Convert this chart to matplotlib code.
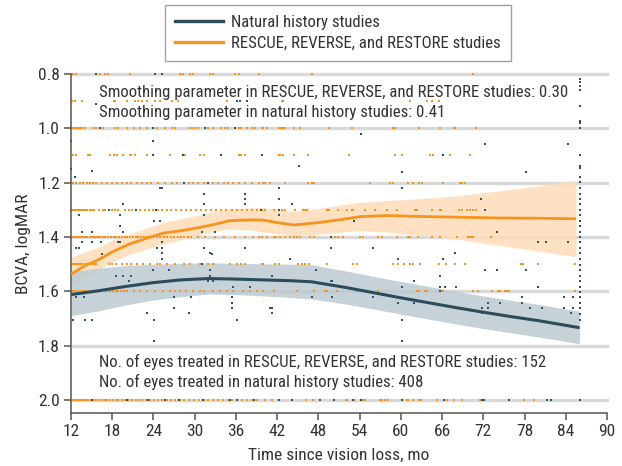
import matplotlib
matplotlib.use('Agg')
import matplotlib.pyplot as plt
from matplotlib import font_manager as fm
from matplotlib.lines import Line2D

# ---------------- data ----------------
x_ticks = [12, 18, 24, 30, 36, 42, 48, 54, 60, 66, 72, 78, 84, 90]
y_ticks = [0.8, 1.0, 1.2, 1.4, 1.6, 1.8, 2.0]

# LOESS fits (natural history)
nh_t   = [12, 16, 20, 24, 28, 32, 36, 40, 44, 47, 52, 56, 60, 64, 68, 72, 76, 80, 86]
nh_fit = [1.612, 1.598, 1.582, 1.568, 1.558, 1.553, 1.555, 1.558, 1.561, 1.565, 1.586,
          1.605, 1.624, 1.642, 1.660, 1.677, 1.693, 1.708, 1.734]
nh_lo  = [1.528, 1.515, 1.505, 1.500, 1.497, 1.495, 1.497, 1.499, 1.500, 1.502, 1.525,
          1.545, 1.564, 1.582, 1.600, 1.617, 1.633, 1.648, 1.673]
nh_hi  = [1.690, 1.672, 1.650, 1.632, 1.620, 1.610, 1.612, 1.617, 1.623, 1.628, 1.647,
          1.665, 1.684, 1.702, 1.720, 1.737, 1.753, 1.768, 1.793]

# LOESS fits (RESCUE, REVERSE, RESTORE)
rs_t   = [12, 14, 16, 18, 20.6, 23, 25.4, 28, 30.2, 32.5, 35.1, 38, 40, 42, 44.4, 48, 51,
          54.1, 58, 62, 68, 74, 80, 85.5]
rs_fit = [1.537, 1.506, 1.484, 1.455, 1.425, 1.405, 1.386, 1.377, 1.367, 1.356, 1.340,
          1.337, 1.338, 1.347, 1.356, 1.347, 1.337, 1.325, 1.321, 1.324, 1.327, 1.330,
          1.331, 1.333]
rs_lo  = [1.475, 1.455, 1.438, 1.412, 1.389, 1.367, 1.346, 1.333, 1.321, 1.308, 1.296,
          1.293, 1.292, 1.298, 1.306, 1.295, 1.283, 1.272, 1.266, 1.260, 1.249, 1.231,
          1.212, 1.191]
rs_hi  = [1.575, 1.548, 1.519, 1.492, 1.463, 1.444, 1.426, 1.410, 1.395, 1.382, 1.370,
          1.374, 1.381, 1.388, 1.395, 1.390, 1.383, 1.377, 1.382, 1.392, 1.408, 1.430,
          1.452, 1.472]

# treated eyes: months of observations on each logMAR row
rs_08 = [12.0, 12.3, 12.8, 16.2, 17.0, 17.4, 20.6, 27.9, 28.3, 29.3, 29.8, 32.2, 32.7,
         35.9, 36.4, 39.3, 47.0, 70.5]
rs_09 = [12.1, 12.6, 13.6, 18.2, 18.4, 20.1, 21.3, 21.8, 22.3, 23.0, 24.2, 25.0, 26.7,
         27.6, 34.7, 42.7, 42.9, 61.3, 63.8, 64.5, 65.5]
rs_10 = [12.1, 12.4, 12.6, 12.9, 13.1, 13.4, 13.6, 14.0, 15.2, 15.7, 16.7, 18.4, 18.9,
         20.1, 21.1, 22.0, 23.0, 24.5, 25.7, 26.7, 27.1, 29.1, 29.6, 30.0, 30.5, 32.0,
         32.7, 33.9, 34.4, 34.9, 36.4, 36.8, 37.6, 38.3, 38.8, 39.8, 40.0, 40.5, 42.2,
         42.4, 42.7, 42.9, 43.2, 44.4, 45.3, 49.5, 52.9, 58.9, 59.2, 62.6, 65.7, 67.7,
         67.9, 70.9]
rs_11 = [12.3, 12.8, 14.5, 14.8, 17.7, 18.2, 18.7, 19.6, 20.6, 20.8, 21.3, 23.0, 26.4,
         28.6, 30.8, 31.3, 36.4, 36.8, 37.3, 42.2, 42.4, 42.9, 44.4, 46.5, 52.4, 59.2,
         60.1, 64.3, 64.7, 67.2, 70.1]
rs_12 = [12.0, 12.35, 12.8, 13.3, 13.8, 14.3, 14.8, 15.25, 15.7, 16.5, 17.2, 17.9, 18.65,
         19.4, 20.1, 20.8, 21.6, 22.3, 23.0, 23.7, 24.7, 25.7, 26.65, 27.4, 29.1, 29.8,
         30.5, 31.3, 32.7, 33.4, 34.2, 34.9, 35.6, 36.4, 37.3, 38.3, 39.3, 40.0, 40.2,
         41.0, 43.2, 46.5, 47.0, 47.3, 55.5, 58.4, 58.9, 61.0, 61.8, 62.6, 63.1, 66.2,
         68.6, 68.9, 69.3]
rs_13 = [12.0, 12.3, 12.6, 12.9, 13.2, 13.5, 13.8, 14.1, 14.4, 14.7, 15.0, 15.4, 16.1,
         16.6, 17.0, 17.5, 18.0, 18.4, 18.9, 19.9, 20.4, 20.9, 21.5, 22.1, 22.7, 23.4,
         24.0, 24.6, 25.3, 26.0, 26.6, 27.3, 28.0, 28.7, 29.5, 30.2, 30.9, 31.6, 32.4,
         33.1, 33.9, 34.6, 35.4, 36.1, 36.9, 37.6, 38.4, 39.1, 39.8, 40.2, 41.5, 42.7,
         43.2, 44.6, 45.8, 46.1, 46.3, 49.2, 49.5, 50.9, 52.1, 52.9, 53.1, 54.8, 56.3,
         58.0, 59.4, 62.1, 62.3, 64.5, 65.7, 65.9, 68.4, 68.9, 69.6, 70.1, 70.5, 70.9,
         72.3]
rs_14 = [12.0, 12.3, 12.6, 12.9, 13.2, 13.5, 13.8, 14.1, 14.4, 14.7, 15.0, 15.3, 15.6,
         15.9, 16.2, 16.6, 17.0, 17.4, 17.8, 18.2, 18.6, 19.0, 19.4, 19.8, 20.2, 20.6,
         21.0, 21.4, 21.8, 22.2, 22.6, 23.0, 23.5, 24.0, 24.5, 25.0, 25.5, 26.0, 26.5,
         27.0, 27.5, 28.0, 28.5, 29.0, 29.5, 30.5, 31.5, 33.0, 34.2, 35.9, 37.3, 38.5,
         39.3, 39.8, 40.5, 41.5, 41.9, 42.4, 43.2, 43.9, 44.4, 44.9, 45.3, 46.8, 47.3,
         50.4, 50.9, 51.6, 54.1, 54.5, 56.7, 57.2, 59.4, 61.1, 61.3, 62.5, 64.5, 65.7,
         68.1, 69.8, 70.1, 70.3, 70.5, 73.1]
rs_15 = [12.1, 12.4, 12.7, 13.0, 13.3, 13.6, 14.0, 14.3, 14.6, 15.0, 15.3, 15.7, 17.5,
         18.0, 18.6, 19.4, 20.1, 20.8, 21.6, 22.5, 23.5, 24.5, 24.95, 25.9, 27.1, 28.4,
         29.3, 30.8, 32.0, 32.7, 35.1, 36.1, 36.8, 37.3, 39.8, 40.0, 41.7, 42.2, 45.1,
         45.6, 46.1, 46.6, 49.2, 53.1, 53.6, 58.9, 59.6, 60.5, 61.4, 61.7, 62.8, 65.5,
         66.6, 67.9, 69.4, 77.5, 77.8, 79.9, 85.4]
rs_16 = [12.1, 12.5, 12.9, 13.3, 13.7, 14.1, 14.5, 14.9, 15.3, 15.7, 16.1, 16.5, 16.9,
         17.3, 17.7, 18.1, 18.5, 18.9, 19.3, 19.7, 20.1, 21.1, 22.0, 23.0, 24.2, 25.4,
         26.4, 27.1, 27.9, 28.8, 29.8, 30.8, 31.3, 32.7, 33.7, 34.7, 35.6, 37.1, 38.1,
         39.0, 40.0, 41.5, 44.9, 47.3, 49.0, 49.2, 50.7, 53.6, 56.7, 62.3, 62.6, 63.5,
         63.8, 65.9, 66.1, 70.5, 71.2, 73.2, 74.1, 74.5, 75.2, 75.5, 75.8, 85.4]
rs_20 = [12.0, 12.2, 12.4, 12.6, 12.8, 13.0, 13.3, 13.6, 13.9, 14.2, 14.5, 14.9, 15.3,
         15.7, 16.1, 16.5, 16.9, 17.3, 17.7, 18.1, 18.5, 18.9, 19.4, 19.9, 20.4, 20.9,
         21.4, 21.9, 22.4, 22.9, 23.5, 24.1, 24.7, 25.3, 25.9, 26.5, 27.1, 27.8, 28.5,
         29.2, 29.9, 30.6, 31.3, 32.0, 32.7, 33.4, 34.1, 34.8, 35.5, 36.2, 36.9, 37.6,
         38.3, 39.0, 40.2, 41.2, 42.2, 44.2, 46.2, 47.2, 48.2, 52.0, 52.2, 53.2, 54.3,
         54.7, 54.8, 57.0, 57.2, 57.7, 58.2, 60.9, 61.1, 61.7, 62.6, 62.9, 65.3, 66.3,
         66.7, 67.8, 68.9, 71.5, 71.6, 77.9, 79.4]
rs_rows = {0.8: rs_08, 0.9: rs_09, 1.0: rs_10, 1.1: rs_11, 1.2: rs_12, 1.3: rs_13,
           1.4: rs_14, 1.5: rs_15, 1.6: rs_16, 2.0: rs_20}

# natural history eyes: (month, logMAR) observations
nh_x = [15.7, 24.2, 25.2, 15.7, 36.1, 36.6, 37.6, 16.2, 24.0, 31.5, 35.9,
        54.2, 12.0, 24.0, 72.3, 84.3, 24.0, 28.3, 33.9, 39.8, 66.2,
        45.2, 12.0, 15.0, 60.2, 78.2, 12.6, 32.0, 28.4,
        25.0, 25.2, 42.3, 60.1, 31.3, 37.3, 37.3, 42.3, 71.7,
        19.6, 31.3, 37.3, 44.2, 17.6, 21.5, 24.4, 39.7, 42.3, 72.2,
        13.1, 19.1, 31.3, 42.3, 24.05, 25.0, 53.2, 19.1,
        19.6, 13.6, 15.1, 31.1, 33.0, 74.0, 49.9,
        13.6, 15.1, 16.3, 18.9, 19.2, 25.3, 80.0, 81.1, 84.3,
        12.8, 13.1, 24.5, 25.3, 31.3, 37.3, 49.9, 56.0,
        25.3, 32.3, 67.9, 16.5, 32.5, 25.3, 43.9, 59.6, 66.2, 31.1,
        24.0, 26.2, 32.3, 47.7, 72.3, 74.0, 78.2,
        18.5, 19.5, 20.7, 32.3, 41.2, 65.7,
        20.5, 32.0, 32.6, 49.9, 61.9, 50.0,
        35.6, 38.0, 60.2, 65.7, 66.4, 68.0, 79.9, 80.0, 65.7,
        27.0, 29.4, 35.5, 12.8, 13.9, 47.0, 50.0, 56.0, 59.6, 77.7, 83.8, 85.0,
        35.5, 59.6, 61.9, 72.7, 74.4, 77.7,
        27.0, 35.5, 40.9, 41.2, 71.8, 72.7, 78.8, 80.5, 83.8, 85.0,
        23.0, 29.1, 41.2, 71.8, 84.8,
        12.3, 14.0, 15.0, 24.1, 36.1, 60.2, 24.1, 60.2,
        15.1, 20.2, 23.2, 25.7, 27.7, 31.2, 35.2, 36.2, 38.7, 42.2, 44.2, 48.2,
        50.2, 53.0, 54.2, 60.2, 66.3, 71.8, 72.1, 75.8, 81.3, 81.8]
nh_y = [0.80, 0.80, 0.80, 0.91, 0.90, 0.90, 0.90, 1.00, 1.00, 1.00, 1.00,
        1.02, 1.048, 1.048, 1.058, 1.058, 1.10, 1.10, 1.10, 1.10, 1.10,
        1.138, 1.149, 1.156, 1.159, 1.159, 1.178, 1.20, 1.203,
        1.22, 1.22, 1.22, 1.22, 1.241, 1.241, 1.262, 1.259, 1.259,
        1.28, 1.28, 1.28, 1.28, 1.30, 1.30, 1.30, 1.30, 1.30, 1.30,
        1.319, 1.319, 1.319, 1.319, 1.34, 1.34, 1.34, 1.358,
        1.38, 1.38, 1.38, 1.38, 1.38, 1.38, 1.40,
        1.42, 1.42, 1.42, 1.42, 1.42, 1.42, 1.42, 1.42, 1.42,
        1.44, 1.44, 1.44, 1.44, 1.44, 1.44, 1.44, 1.44,
        1.459, 1.459, 1.459, 1.463, 1.463, 1.481, 1.481, 1.481, 1.481, 1.50,
        1.521, 1.521, 1.521, 1.521, 1.52, 1.52, 1.52,
        1.543, 1.543, 1.543, 1.543, 1.543, 1.543,
        1.562, 1.562, 1.562, 1.562, 1.562, 1.562,
        1.583, 1.583, 1.583, 1.583, 1.583, 1.583, 1.583, 1.585, 1.60,
        1.621, 1.621, 1.621, 1.621, 1.621, 1.621, 1.621, 1.621, 1.621, 1.621, 1.621, 1.621,
        1.642, 1.642, 1.642, 1.642, 1.642, 1.642,
        1.66, 1.66, 1.66, 1.66, 1.663, 1.663, 1.663, 1.663, 1.663, 1.663,
        1.681, 1.681, 1.681, 1.681, 1.681,
        1.704, 1.704, 1.704, 1.704, 1.704, 1.704, 1.784, 1.784,
        2.0, 2.0, 2.0, 2.0, 2.0, 2.0, 2.0, 2.0, 2.0, 2.0, 2.0, 2.0,
        2.0, 2.0, 2.0, 2.0, 2.0, 2.0, 2.0, 2.0, 2.0, 2.0]
# natural history eyes observed at the last follow-up month (86 mo)
nh_last_month = 86
nh_last_y = [0.817, 0.83, 0.844, 0.859, 0.916, 0.974, 0.98, 0.999, 1.10, 1.138, 1.147,
             1.178, 1.198, 1.22, 1.241, 1.259, 1.279, 1.299, 1.319, 1.34, 1.36, 1.38,
             1.401, 1.42, 1.441, 1.459, 1.481, 1.503, 1.521, 1.543, 1.562, 1.583, 1.601,
             1.621, 1.642, 1.66, 1.683, 1.704, 2.0]

labels = ['Natural history studies', 'RESCUE, REVERSE, and RESTORE studies']
notes_top = ['Smoothing parameter in RESCUE, REVERSE, and RESTORE studies: 0.30',
             'Smoothing parameter in natural history studies: 0.41']
notes_bottom = ['No. of eyes treated in RESCUE, REVERSE, and RESTORE studies: 152',
                'No. of eyes treated in natural history studies: 408']

# ---------------- style ----------------
TEAL = '#2b4d5b'
TEAL_DOT = '#2f5566'
TEAL_BAND = '#b9c7cf'
ORANGE = '#f7941d'
ORANGE_BAND = '#fddcb8'
GRID = '#d9d9d9'
TXT = '#333333'

names = {f.name for f in fm.fontManager.ttflist}
FONT_KW = {}
for cand in ['Liberation Sans Narrow', 'Roboto Condensed', 'Open Sans Condensed']:
    if cand in names:
        FONT_KW = {'family': cand}
        break
if not FONT_KW:
    cond = [f for f in fm.fontManager.ttflist
            if f.name == 'DejaVu Sans' and str(f.stretch) in ('condensed', '500', 'semi-condensed')]
    if cond:
        FONT_KW = {'family': 'DejaVu Sans', 'stretch': 'condensed'}
    else:
        FONT_KW = {'family': 'Lato'} if 'Lato' in names else {'family': 'DejaVu Sans'}

plt.rcParams['font.family'] = FONT_KW['family']
if 'stretch' in FONT_KW:
    plt.rcParams['font.stretch'] = FONT_KW['stretch']

W, H = 622, 466
DPI = 100

# calibrate font size so the long note spans ~467 px
tmp = plt.figure(figsize=(W / DPI, H / DPI), dpi=DPI)
tt = tmp.text(0, 0, notes_top[0], fontsize=11)
tmp.canvas.draw()
wpx = tt.get_window_extent(tmp.canvas.get_renderer()).width
plt.close(tmp)
FS = 11 * 467.0 / wpx

fig = plt.figure(figsize=(W / DPI, H / DPI), dpi=DPI)
ax = fig.add_axes([71 / W, 1 - 413 / H, (607 - 71) / W, (413 - 74) / H])

# grid
for yv in y_ticks:
    ax.axhline(yv, color=GRID, lw=2.4, zorder=0.5, clip_on=False)

# bands
ax.fill_between(rs_t, rs_lo, rs_hi, color=ORANGE_BAND, lw=0, alpha=0.85, zorder=1)
ax.fill_between(nh_t, nh_lo, nh_hi, color=TEAL_BAND, lw=0, alpha=0.8, zorder=1.1)

# points
MS = 2.0
for yv, xs in rs_rows.items():
    ax.plot(xs, [yv] * len(xs), ls='none', marker='s', ms=MS, mew=0, color=ORANGE,
            zorder=2, clip_on=False)
ax.plot(nh_x, nh_y, ls='none', marker='s', ms=MS, mew=0, color=TEAL_DOT, zorder=2.1,
        clip_on=False)
ax.plot([nh_last_month] * len(nh_last_y), nh_last_y, ls='none', marker='s', ms=MS, mew=0,
        color=TEAL_DOT, zorder=2.1, clip_on=False)

# fits
ax.plot(rs_t, rs_fit, color=ORANGE, lw=2.0, zorder=3, solid_capstyle='butt')
ax.plot(nh_t, nh_fit, color=TEAL, lw=2.2, zorder=3, solid_capstyle='butt')

ax.set_xlim(12, 90)
ax.set_ylim(2.048, 0.8)
ax.set_xticks(x_ticks)
ax.set_xticklabels([str(v) for v in x_ticks])
ax.set_yticks(y_ticks)
ax.set_yticklabels(['%.1f' % v for v in y_ticks])
for s in ['top', 'right']:
    ax.spines[s].set_visible(False)
for s in ['left', 'bottom']:
    ax.spines[s].set_color('#555555')
    ax.spines[s].set_linewidth(1.1)
ax.tick_params(axis='both', colors='#555555', labelcolor=TXT, labelsize=FS * 1.04,
               length=5, width=1.1, pad=3)
ax.set_xlabel('Time since vision loss, mo', fontsize=FS * 1.04, color=TXT, labelpad=6)
ax.set_ylabel('BCVA, logMAR', fontsize=FS * 1.04, color=TXT, labelpad=5)

# notes
fig.text(99 / W, 1 - 92 / H, notes_top[0], fontsize=FS, color=TXT, va='center')
fig.text(99 / W, 1 - 112 / H, notes_top[1], fontsize=FS, color=TXT, va='center')
fig.text(99 / W, 1 - 362 / H, notes_bottom[0], fontsize=FS, color=TXT, va='center')
fig.text(99 / W, 1 - 382 / H, notes_bottom[1], fontsize=FS, color=TXT, va='center')

# legend
handles = [Line2D([0], [0], color=TEAL, lw=2.4), Line2D([0], [0], color=ORANGE, lw=2.4)]
leg = fig.legend(handles, labels, loc='upper left', bbox_to_anchor=(165 / W, 1 - 5 / H),
                 frameon=True, fancybox=False, fontsize=FS, handlelength=2.9,
                 handletextpad=0.45, labelspacing=0.35, borderpad=0.6, borderaxespad=0)
leg.get_frame().set_edgecolor('#8a8a8a')
leg.get_frame().set_linewidth(1.0)
for t in leg.get_texts():
    t.set_color(TXT)

fig.savefig('out.png', dpi=DPI)
